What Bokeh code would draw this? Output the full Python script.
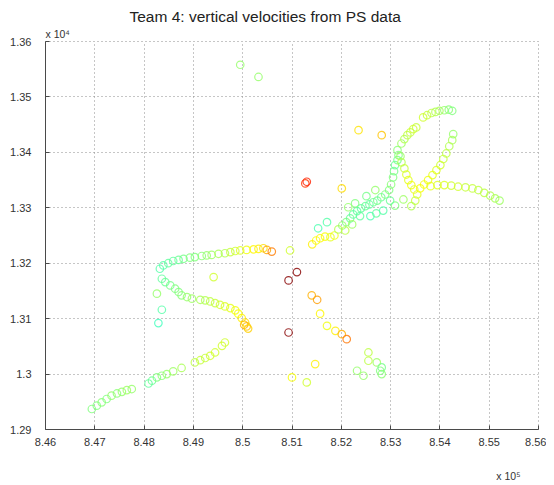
import numpy as np
from bokeh.plotting import figure
from bokeh.models import ColumnDataSource, LinearColorMapper, FixedTicker, Range1d, Title, LinearAxis
from bokeh.transform import transform
from bokeh.embed import file_html
from bokeh.resources import INLINE

TITLE = "Team 4: vertical velocities from PS data"
Y_EXP = "x 10\u2074"
X_EXP = "x 10\u2075"
X_EXP_POS = 8.5539  # where the x exponent note sits along the x axis

x_ticks = [8.46, 8.47, 8.48, 8.49, 8.50, 8.51, 8.52, 8.53, 8.54, 8.55, 8.56]
x_tick_labels = ["8.46", "8.47", "8.48", "8.49", "8.5", "8.51", "8.52", "8.53", "8.54", "8.55", "8.56"]
y_ticks = [1.29, 1.30, 1.31, 1.32, 1.33, 1.34, 1.35, 1.36]
y_tick_labels = ["1.29", "1.3", "1.31", "1.32", "1.33", "1.34", "1.35", "1.36"]

# south-west track (x in 1e5 m, y in 1e4 m, vel normalised 0..1)
x_sw = [8.4694, 8.4704, 8.4714, 8.4724, 8.4734, 8.4745, 8.4755, 8.4765, 8.4775, 8.4809, 8.4816, 8.4826,
        8.4836, 8.4846, 8.4859, 8.4876, 8.4903, 8.4914, 8.4924, 8.4934, 8.4944, 8.4958, 8.4964]
y_sw = [1.2937, 1.2943, 1.2949, 1.2955, 1.2961, 1.2965, 1.2968, 1.2971, 1.2973, 1.2983, 1.2988, 1.2994,
        1.2997, 1.3000, 1.3005, 1.3011, 1.3021, 1.3025, 1.3029, 1.3033, 1.3039, 1.3051, 1.3057]
v_sw = [.50, .50, .51, .50, .52, .51, .52, .53, .52, .47, .48, .50, .51, .52, .53, .54, .56, .57, .57, .58, .58, .58, .58]

# upper arc
x_arc = [8.4832, 8.4839, 8.4849, 8.4859, 8.4870, 8.4880, 8.4893, 8.4903, 8.4917, 8.4927, 8.4937, 8.4951,
         8.4964, 8.4975, 8.4985, 8.4995, 8.5008, 8.5022, 8.5032, 8.5042, 8.5049, 8.5059]
y_arc = [1.3190, 1.3196, 1.3200, 1.3204, 1.3206, 1.3208, 1.3210, 1.3211, 1.3213, 1.3214, 1.3215, 1.3217,
         1.3218, 1.3220, 1.3222, 1.3223, 1.3224, 1.3225, 1.3226, 1.3227, 1.3224, 1.3221]
v_arc = [.46, .46, .47, .47, .48, .49, .50, .50, .51, .52, .53, .54, .55, .57, .58, .59, .61, .63, .64, .66, .71, .75]

# S-shaped track
x_s = [8.4836, 8.4843, 8.4853, 8.4863, 8.4870, 8.4876, 8.4887, 8.4897, 8.4914, 8.4924, 8.4934, 8.4944,
       8.4954, 8.4964, 8.4975, 8.4985, 8.4991, 8.4998, 8.5005, 8.5008, 8.5003, 8.5011]
y_s = [1.3172, 1.3166, 1.3160, 1.3154, 1.3148, 1.3142, 1.3139, 1.3136, 1.3134, 1.3133, 1.3131, 1.3128,
       1.3125, 1.3122, 1.3119, 1.3115, 1.3109, 1.3101, 1.3093, 1.3086, 1.3089, 1.3082]
v_s = [.47, .48, .49, .50, .50, .51, .52, .53, .54, .55, .56, .57, .58, .59, .60, .61, .62, .64, .66, .68, .70, .67]

# scattered points
x_iso = [8.4941, 8.4826, 8.4836, 8.4829, 8.5096, 8.5093, 8.5110, 8.5140, 8.5151, 8.5157, 8.5171, 8.5188,
         8.5201, 8.5211, 8.5093, 8.5147, 8.5100, 8.5130, 8.5232, 8.5245, 8.5255, 8.5255, 8.5272, 8.5279,
         8.5282, 8.5282, 8.5127, 8.5130, 8.5201, 8.5235, 8.5282, 8.4995, 8.5032]
y_iso = [1.3175, 1.3145, 1.3116, 1.3092, 1.3223, 1.3169, 1.3184, 1.3142, 1.3134, 1.3109, 1.3087, 1.3078,
         1.3072, 1.3063, 1.3075, 1.3018, 1.2994, 1.2985, 1.3006, 1.2997, 1.3039, 1.3024, 1.3021, 1.3006,
         1.3012, 1.3000, 1.3344, 1.3347, 1.3335, 1.3440, 1.3431, 1.3558, 1.3536]
v_iso = [.58, .52, .46, .44, .58, .99, .99, .70, .72, .63, .61, .64, .70, .76, .99, .64, .62, .58, .52, .52,
         .56, .56, .53, .50, .49, .51, .82, .84, .66, .65, .68, .52, .52]

# north-east cluster
x_ne = [8.5149, 8.5157, 8.5167, 8.5178, 8.5186, 8.5141, 8.5153, 8.5171, 8.5194, 8.5202, 8.5210, 8.5218,
        8.5224, 8.5232, 8.5240, 8.5249, 8.5257, 8.5265, 8.5273, 8.5281, 8.5289, 8.5297, 8.5301, 8.5305,
        8.5307, 8.5309, 8.5314, 8.5316, 8.5314, 8.5259, 8.5271, 8.5285, 8.5238, 8.5228, 8.5214, 8.5251,
        8.5269, 8.5309, 8.5299, 8.5326, 8.5208, 8.5222, 8.5322, 8.5328, 8.5334, 8.5340, 8.5346, 8.5352,
        8.5320, 8.5322, 8.5328, 8.5332, 8.5336, 8.5342, 8.5348, 8.5354, 8.5350, 8.5342]
y_ne = [1.3241, 1.3245, 1.3248, 1.3247, 1.3250, 1.3234, 1.3263, 1.3274, 1.3261, 1.3268, 1.3274, 1.3281,
        1.3288, 1.3294, 1.3299, 1.3303, 1.3306, 1.3310, 1.3313, 1.3319, 1.3324, 1.3332, 1.3342, 1.3355,
        1.3366, 1.3377, 1.3386, 1.3395, 1.3404, 1.3285, 1.3290, 1.3295, 1.3285, 1.3308, 1.3301, 1.3321,
        1.3332, 1.3304, 1.3313, 1.3315, 1.3259, 1.3270, 1.3416, 1.3424, 1.3431, 1.3436, 1.3442, 1.3445,
        1.3393, 1.3382, 1.3371, 1.3360, 1.3350, 1.3341, 1.3333, 1.3324, 1.3313, 1.3303]
v_ne = [.62, .63, .62, .60, .61, .64, .45, .46, .55, .52, .50, .48, .47, .47, .47, .48, .47, .48, .49, .48,
        .50, .50, .51, .50, .49, .48, .49, .50, .51, .45, .47, .46, .47, .50, .52, .49, .52, .50, .48, .53,
        .56, .53, .53, .55, .56, .57, .58, .57, .53, .55, .57, .59, .60, .61, .60, .60, .57, .55]

# eastern tracks
x_e = [8.5427, 8.5425, 8.5419, 8.5413, 8.5407, 8.5401, 8.5393, 8.5385, 8.5376, 8.5368, 8.5360, 8.5381,
       8.5395, 8.5409, 8.5423, 8.5437, 8.5452, 8.5466, 8.5478, 8.5490, 8.5502, 8.5512, 8.5521, 8.5366,
       8.5374, 8.5383, 8.5391, 8.5399, 8.5409, 8.5418, 8.5425]
y_e = [1.3433, 1.3422, 1.3411, 1.3398, 1.3388, 1.3377, 1.3368, 1.3359, 1.3350, 1.3342, 1.3335, 1.3339,
       1.3341, 1.3341, 1.3340, 1.3338, 1.3337, 1.3335, 1.3332, 1.3327, 1.3322, 1.3317, 1.3313, 1.3463,
       1.3467, 1.3471, 1.3473, 1.3475, 1.3476, 1.3477, 1.3475]
v_e = [.52, .54, .55, .56, .57, .58, .59, .60, .61, .62, .62, .60, .59, .59, .58, .58, .57, .57, .56, .56,
       .55, .54, .53, .58, .57, .56, .55, .54, .52, .51, .50]

# jet colormap
t = np.linspace(0, 1, 256)
r = np.clip(1.5 - np.abs(4 * t - 3), 0, 1)
g = np.clip(1.5 - np.abs(4 * t - 2), 0, 1)
b = np.clip(1.5 - np.abs(4 * t - 1), 0, 1)
jet = ["#%02x%02x%02x" % (int(rr * 255), int(gg * 255), int(bb * 255)) for rr, gg, bb in zip(r, g, b)]
mapper = LinearColorMapper(palette=jet, low=0.0, high=1.0)

source = ColumnDataSource(dict(
    x=x_sw + x_arc + x_s + x_iso + x_ne + x_e,
    y=y_sw + y_arc + y_s + y_iso + y_ne + y_e,
    vel=v_sw + v_arc + v_s + v_iso + v_ne + v_e,
))

p = figure(width=546, height=485, output_backend="svg", toolbar_location=None,
           x_range=Range1d(8.46, 8.56), y_range=Range1d(1.29, 1.36),
           min_border_left=45, min_border_right=8, min_border_top=41, min_border_bottom=56)
p.background_fill_color = "white"
p.border_fill_color = "white"

p.title.text = TITLE
p.title.text_font = "Liberation Sans"
p.title.text_font_size = "15.5px"
p.title.text_font_style = "normal"
p.title.text_color = "#222222"
p.title.align = "left"
p.title.offset = 84
p.title.standoff = 0

# exponent of the y axis, right above the frame
y_exp_title = Title(text=Y_EXP, text_font="Liberation Sans", text_font_size="10.5px",
                    text_font_style="normal", text_color="#333333", align="left", offset=0, standoff=3)
p.add_layout(y_exp_title, "above")

p.scatter("x", "y", source=source, marker="circle", size=7.5, fill_color=None,
          line_color=transform("vel", mapper), line_width=1.2, line_alpha=0.8)

for ax, ticks, labels in ((p.xaxis[0], x_ticks, x_tick_labels), (p.yaxis[0], y_ticks, y_tick_labels)):
    ax.ticker = FixedTicker(ticks=ticks)
    ax.major_label_overrides = dict(zip(ticks, labels))
    ax.axis_line_color = "#4a4a4a"
    ax.major_tick_line_color = "#4a4a4a"
    ax.major_tick_in = 4
    ax.major_tick_out = 0
    ax.minor_tick_line_color = None
    ax.major_label_text_font = "Liberation Sans"
    ax.major_label_text_font_size = "11px"
    ax.major_label_text_color = "#333333"
p.xaxis.major_label_standoff = 8
p.yaxis.major_label_standoff = 14

# exponent of the x axis: a bare second axis below carrying just the note
exp_axis = LinearAxis(ticker=FixedTicker(ticks=[X_EXP_POS]),
                      major_label_overrides={X_EXP_POS: X_EXP},
                      axis_line_color=None, major_tick_line_color=None, minor_tick_line_color=None,
                      major_tick_in=0, major_tick_out=0, major_label_standoff=21,
                      major_label_text_font="Liberation Sans", major_label_text_font_size="10.5px",
                      major_label_text_color="#333333")
p.add_layout(exp_axis, "below")

for grid in (p.xgrid, p.ygrid):
    grid.grid_line_color = "#8c8c8c"
    grid.grid_line_dash = "1 3"
    grid.grid_line_width = 1
p.outline_line_color = "#8c8c8c"
p.outline_line_dash = "1 3"

open("out.html", "w").write(file_html(p, INLINE))
